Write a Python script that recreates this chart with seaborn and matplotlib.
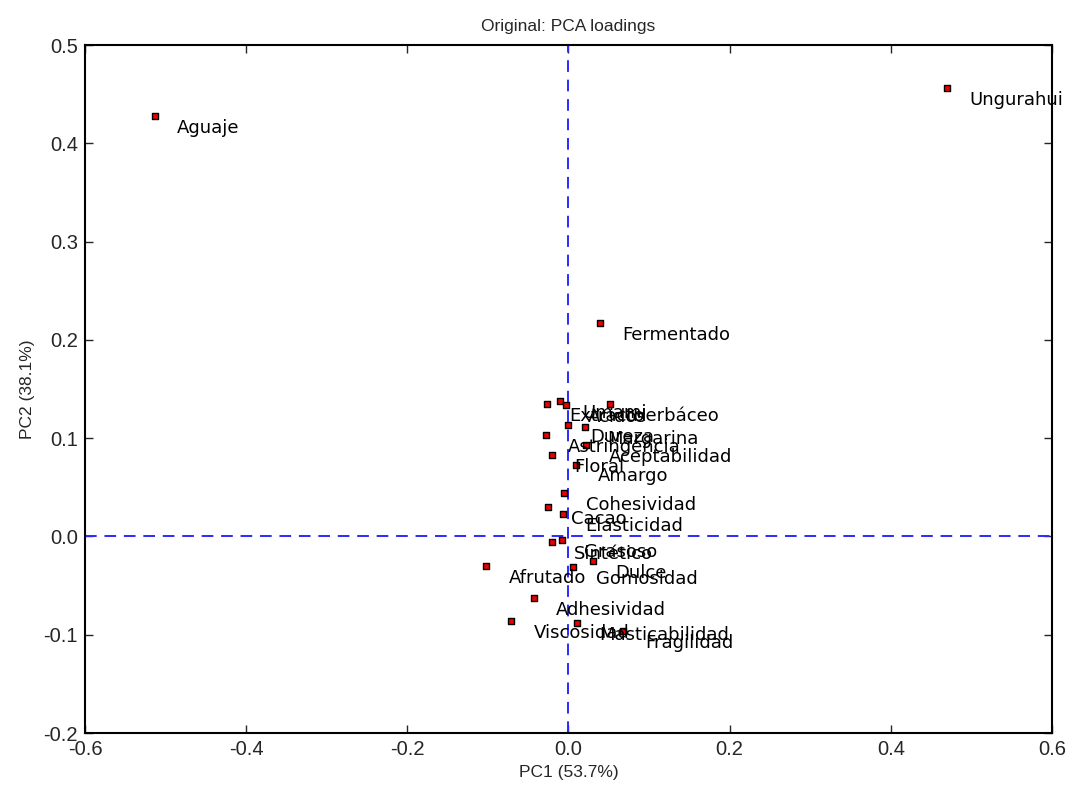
import numpy as np
import pandas as pd
import matplotlib
matplotlib.use('Agg')
import matplotlib.pyplot as plt
import seaborn as sns


# PCA LOADINGS

attributes = [
    'Aguaje', 'Ungurahui', 'Fermentado', 'Extracto', 'Umami',
    'Acidos', 'Herbáceo', 'Dureza', 'Margarina', 'Astringencia',
    'Aceptabilidad', 'Floral', 'Amargo', 'Cohesividad', 'Cacao',
    'Elasticidad', 'Sintético', 'Grasoso', 'Dulce', 'Afrutado',
    'Gomosidad', 'Adhesividad', 'Viscosidad', 'Masticabilidad',
    'Fragilidad'
]

pc1 = [
    -0.513, 0.470, 0.039, -0.027, -0.010,
    -0.003, 0.051, 0.000, 0.021, -0.028,
    0.022, -0.021, 0.009, -0.006, -0.025,
    -0.007, -0.021, -0.008, 0.030, -0.102,
    0.006, -0.043, -0.071, 0.011,
    0.068
]

pc2 = [
    0.428, 0.456, 0.217, 0.135, 0.138,
    0.134, 0.135, 0.113, 0.111, 0.103,
    0.093, 0.083, 0.073, 0.044, 0.030,
    0.023, -0.006, -0.004, -0.025, -0.030,
    -0.031, -0.063, -0.086, -0.088,
    -0.096
]

x_ticks = [-0.6, -0.4, -0.2, 0.0, 0.2, 0.4, 0.6]
y_ticks = [-0.2, -0.1, 0.0, 0.1, 0.2, 0.3, 0.4, 0.5]

loadings = pd.DataFrame({
    'Attribute': attributes,
    'PC1': pc1,
    'PC2': pc2
})


sns.set_style('ticks')
plt.rcParams['font.family'] = ['Liberation Sans', 'DejaVu Sans']

fig = plt.figure(figsize=(10.72, 7.87), dpi=100)
ax = fig.add_axes([0.0793, 0.0686, 0.9020, 0.8742])

ax.axhline(0, color='#2a2aff', linestyle='--', linewidth=1.4,
           dashes=(6, 4), zorder=1)
ax.axvline(0, color='#2a2aff', linestyle='--', linewidth=1.4,
           dashes=(6, 4), zorder=1)

sns.scatterplot(
    data=loadings,
    x='PC1',
    y='PC2',
    marker='s',
    s=22,
    color='#ee0000',
    edgecolor='black',
    linewidth=1.0,
    ax=ax,
    zorder=3
)

for _, row in loadings.iterrows():
    ax.annotate(
        row['Attribute'],
        xy=(row['PC1'], row['PC2']),
        xytext=(16, -8.5),
        textcoords='offset points',
        ha='left',
        va='center',
        fontsize=13,
        family='DejaVu Sans',
        color='black',
        zorder=4
    )

ax.set_xlim(-0.6, 0.6)
ax.set_ylim(-0.2, 0.5)
ax.set_xticks(x_ticks)
ax.set_yticks(y_ticks)
ax.set_xticklabels([f'{t:.1f}' for t in x_ticks])
ax.set_yticklabels([f'{t:.1f}' for t in y_ticks])

ax.tick_params(direction='in', top=True, right=True, length=6,
               width=1, labelsize=14.5, pad=5)

for spine in ax.spines.values():
    spine.set_color('black')
    spine.set_linewidth(1.5)

ax.set_title('Original: PCA loadings', fontsize=12.5, pad=10)
ax.set_xlabel('PC1 (53.7%)', fontsize=12.5, labelpad=4)
ax.set_ylabel('PC2 (38.1%)', fontsize=12.5, labelpad=6)

fig.savefig('out.png', dpi=100, facecolor='white')
